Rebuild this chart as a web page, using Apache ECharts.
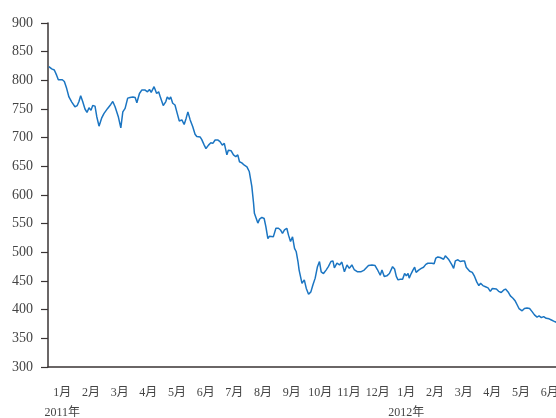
<!DOCTYPE html>
<html>
<head>
<meta charset="utf-8">
<script src="https://cdn.jsdelivr.net/npm/echarts@6/dist/echarts.min.js"></script>
<style>
  html, body { margin: 0; padding: 0; background: #fff; }
  #main { width: 556px; height: 418px; }
</style>
</head>
<body>
<div id="main"></div>
<script>
// 月份刻度（2011年1月 ~ 2012年6月）
const monthLabels = ['1月', '2月', '3月', '4月', '5月', '6月', '7月', '8月', '9月', '10月', '11月', '12月',
  '1月', '2月', '3月', '4月', '5月', '6月'];
const yearLabels = { 0: '2011年', 12: '2012年' };

// 时间位置（自2011年1月1日起的月数）
const monthPos = [
  0.03, 0.13, 0.22, 0.30, 0.36, 0.42, 0.50, 0.57, 0.65, 0.73, 0.83, 0.94,
  1.02, 1.08, 1.14, 1.21, 1.29, 1.36, 1.43, 1.50, 1.56, 1.64, 1.70, 1.78, 1.87, 1.95,
  2.01, 2.08, 2.19, 2.26, 2.34, 2.40, 2.45, 2.54, 2.61, 2.69, 2.78, 2.86, 2.96,
  3.04, 3.10, 3.19, 3.27, 3.39, 3.47, 3.54, 3.60, 3.70, 3.79, 3.86, 3.93,
  4.02, 4.11, 4.16, 4.23, 4.28, 4.35, 4.43, 4.51, 4.58, 4.67, 4.75, 4.82, 4.88, 4.96,
  5.05, 5.13, 5.19, 5.31, 5.36, 5.45, 5.51, 5.60, 5.68, 5.75, 5.83, 5.92,
  6.00, 6.08, 6.15, 6.24, 6.29, 6.39, 6.47, 6.55, 6.62, 6.68, 6.76, 6.85, 6.94,
  7.02, 7.06, 7.11, 7.17, 7.20, 7.25, 7.32, 7.38, 7.46, 7.54, 7.60, 7.67, 7.72, 7.78, 7.86, 7.95,
  8.04, 8.11, 8.18, 8.25, 8.33, 8.39, 8.46, 8.53, 8.60, 8.66, 8.72, 8.76, 8.86, 8.94,
  9.01, 9.09, 9.17, 9.24, 9.32, 9.40, 9.47, 9.53, 9.61, 9.70, 9.78, 9.87, 9.94, 9.99,
  10.08, 10.17, 10.25, 10.34, 10.43, 10.51, 10.60, 10.68, 10.80, 10.91,
  11.03, 11.18, 11.30, 11.41, 11.49, 11.59, 11.65, 11.73, 11.82, 11.91,
  12.02, 12.09, 12.15, 12.21, 12.29, 12.37, 12.44, 12.50, 12.56, 12.60, 12.67, 12.73, 12.79, 12.84, 12.93,
  13.02, 13.10, 13.18, 13.25, 13.31, 13.39, 13.47, 13.53, 13.60, 13.68, 13.74, 13.80, 13.86, 13.92, 13.97,
  14.03, 14.09, 14.15, 14.21, 14.30, 14.38, 14.46, 14.53, 14.59, 14.71, 14.80, 14.88, 14.96,
  15.03, 15.09, 15.17, 15.26, 15.35, 15.43, 15.50, 15.56, 15.64, 15.72, 15.81, 15.89, 15.96,
  16.05, 16.13, 16.22, 16.30, 16.36, 16.43, 16.49, 16.54, 16.62, 16.71, 16.80, 16.88, 16.97,
  17.06, 17.13, 17.21, 17.29, 17.38, 17.48, 17.56, 17.64, 17.73
];

// 指数值
const values = [
  824, 820, 818, 809, 801, 803, 801, 798, 786, 771, 762, 754,
  756, 763, 773, 763, 750, 744, 752, 748, 756, 755, 737, 720, 734, 742,
  740, 751, 758, 763, 754, 751, 737, 717, 745, 751, 769, 770, 771,
  770, 761, 777, 783, 783, 780, 784, 779, 789, 777, 780, 769,
  756, 763, 771, 767, 771, 760, 757, 742, 729, 731, 723, 734, 745, 731,
  719, 706, 702, 701, 697, 687, 681, 687, 691, 690, 696, 696,
  693, 687, 690, 670, 678, 677, 670, 667, 670, 658, 656, 652, 649,
  641, 638, 615, 586, 568, 571, 551, 558, 561, 559, 545, 524, 528, 526, 527, 542,
  542, 539, 533, 539, 542, 530, 519, 527, 507, 501, 484, 469, 446, 452,
  437, 427, 431, 443, 455, 475, 484, 466, 463, 469, 475, 484, 485, 473,
  481, 478, 483, 466, 478, 472, 478, 470, 466, 466,
  469, 477, 478, 477, 470, 460, 469, 458, 459, 463,
  475, 471, 458, 452, 453, 453, 463, 459, 463, 455, 463, 469, 474, 465, 469,
  472, 474, 479, 481, 478, 481, 480, 490, 492, 491, 492, 488, 494, 497, 488,
  485, 478, 472, 485, 487, 484, 485, 485, 474, 467, 465, 458, 448,
  442, 446, 442, 440, 438, 432, 437, 440, 436, 432, 430, 434, 436,
  431, 424, 420, 415, 409, 402, 405, 398, 402, 403, 402, 397, 391,
  387, 389, 386, 388, 385, 384, 382, 380, 378
];

const yTicks = { min: 300, max: 900, interval: 50 };

const axisColor = '#3a3434';
const textColor = '#444';
const fontFamily = '"Liberation Serif", "Noto Sans CJK SC", serif';

const myChart = echarts.init(document.getElementById('main'));
const option = {
  animation: false,
  backgroundColor: '#fff',
  // 6月的区间伸出画面右边，所以 right 为负，且不让标签挤压绘图区
  grid: { left: 48, right: -8, top: 23, bottom: 51, outerBoundsMode: 'none', containLabel: false },
  xAxis: [
    {
      type: 'category',
      data: monthLabels,
      boundaryGap: true,
      axisLine: { lineStyle: { color: axisColor, width: 1.5 } },
      axisTick: { length: 6, lineStyle: { color: axisColor, width: 1.2 } },
      axisLabel: {
        interval: 0,
        margin: 16,
        color: textColor,
        fontSize: 12,
        fontFamily: fontFamily,
        lineHeight: 20,
        formatter: function (value, index) {
          return yearLabels[index] ? value + '\n' + yearLabels[index] : value;
        }
      },
      splitLine: { show: false }
    },
    {
      type: 'value',
      min: 0,
      max: 18,
      show: false
    }
  ],
  yAxis: {
    type: 'value',
    min: yTicks.min,
    max: yTicks.max,
    interval: yTicks.interval,
    axisLine: { show: true, lineStyle: { color: axisColor, width: 1.5 } },
    axisTick: { show: true, length: 7, lineStyle: { color: axisColor, width: 1.2 } },
    axisLabel: { margin: 15, color: textColor, fontSize: 14, fontFamily: fontFamily },
    splitLine: { show: false }
  },
  series: [
    {
      type: 'line',
      xAxisIndex: 1,
      data: monthPos.map((t, i) => [t, values[i]]),
      showSymbol: false,
      lineStyle: { color: '#1b75c2', width: 1.5 }
    }
  ]
};
myChart.setOption(option);
</script>
</body>
</html>
